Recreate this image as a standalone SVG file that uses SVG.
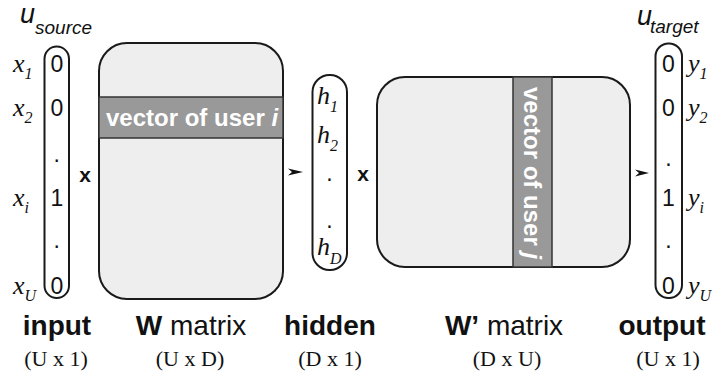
<svg xmlns="http://www.w3.org/2000/svg" width="715" height="373" viewBox="0 0 715 373">
  <defs>
    <style>
      .box { fill: #eeeeee; stroke: #1a1a1a; stroke-width: 2; }
      .pill { fill: #ffffff; stroke: #1a1a1a; stroke-width: 2; }
      .band { fill: #999999; stroke: #333333; stroke-width: 1.5; }
      .band-text { font-family: "Liberation Sans", Arial, sans-serif; font-size: 24px; font-weight: bold; fill: #ffffff; }
      .val { font-family: "Liberation Sans", Arial, sans-serif; font-size: 23px; fill: #111111; text-anchor: middle; }
      .var { font-family: "Liberation Serif", "Times New Roman", serif; font-style: italic; font-size: 26px; fill: #111111; }
      .sub { font-size: 16px; }
      .uname { font-family: "Liberation Sans", Arial, sans-serif; font-style: italic; fill: #111111; }
      .title { font-family: "Liberation Sans", Arial, sans-serif; font-size: 28px; fill: #111111; text-anchor: middle; }
      .dim { font-family: "Liberation Serif", "Times New Roman", serif; font-size: 22px; fill: #111111; text-anchor: middle; }
      .op { font-family: "Liberation Sans", Arial, sans-serif; font-size: 21px; font-weight: bold; fill: #111111; text-anchor: middle; }
      .arrow { fill: #111111; stroke: none; }
    </style>
  </defs>
  <rect width="715" height="373" fill="#ffffff"/>

  <!-- input one-hot vector -->
  <g id="input">
    <text class="uname" x="20" y="23" font-size="27">u</text>
    <text class="uname" x="35" y="34" font-size="19">source</text>
    <rect class="pill" x="44.5" y="46.5" width="24.5" height="251.5" rx="12.25"/>
    <text class="val" x="56.8" y="72">0</text>
    <text class="val" x="56.8" y="116">0</text>
    <text class="val" x="56.8" y="162">.</text>
    <text class="val" x="56.8" y="206">1</text>
    <text class="val" x="56.8" y="248">.</text>
    <text class="val" x="56.8" y="294">0</text>
    <text class="var" x="13" y="72">x<tspan class="sub" dy="7">1</tspan></text>
    <text class="var" x="13" y="116">x<tspan class="sub" dy="7">2</tspan></text>
    <text class="var" x="13" y="206">x<tspan class="sub" dy="7">i</tspan></text>
    <text class="var" x="13" y="294">x<tspan class="sub" dy="7">U</tspan></text>
    <text class="title" x="57" y="335" font-weight="bold">input</text>
    <text class="dim" x="56" y="366">(U x 1)</text>
  </g>

  <!-- W matrix with the row of user i -->
  <g id="w-matrix">
    <rect class="box" x="99" y="43" width="184" height="256" rx="28"/>
    <rect class="band" x="99" y="97" width="184" height="41"/>
    <text class="band-text" x="106" y="126">vector of user <tspan font-style="italic">i</tspan></text>
    <text class="title" x="191" y="335"><tspan font-weight="bold">W</tspan> matrix</text>
    <text class="dim" x="190" y="366">(U x D)</text>
  </g>

  <!-- hidden layer -->
  <g id="hidden">
    <rect class="pill" x="312.5" y="75" width="34.5" height="195" rx="17"/>
    <text class="var" x="317" y="104" font-size="24">h<tspan class="sub" dy="8">1</tspan></text>
    <text class="var" x="317" y="143" font-size="24">h<tspan class="sub" dy="8">2</tspan></text>
    <text class="val" x="329.5" y="181">.</text>
    <text class="val" x="329.5" y="228">.</text>
    <text class="var" x="317" y="255" font-size="24">h<tspan class="sub" dy="9">D</tspan></text>
    <text class="title" x="330" y="335" font-weight="bold">hidden</text>
    <text class="dim" x="330" y="366">(D x 1)</text>
  </g>

  <!-- W' matrix with the column of user j -->
  <g id="w-prime-matrix">
    <rect class="box" x="377" y="77" width="253" height="190" rx="28"/>
    <rect class="band" x="513" y="77" width="39" height="190"/>
    <text class="band-text" transform="translate(524,87) rotate(90)">vector of user <tspan font-style="italic">j</tspan></text>
    <text class="title" x="504" y="335"><tspan font-weight="bold">W’</tspan> matrix</text>
    <text class="dim" x="507" y="366">(D x U)</text>
  </g>

  <!-- output one-hot vector -->
  <g id="output">
    <text class="uname" x="637" y="25" font-size="27">u</text>
    <text class="uname" x="650" y="33" font-size="19">target</text>
    <rect class="pill" x="655.5" y="43.5" width="26.5" height="254.5" rx="13"/>
    <text class="val" x="668.5" y="72">0</text>
    <text class="val" x="668.5" y="116">0</text>
    <text class="val" x="668.5" y="166">.</text>
    <text class="val" x="668.5" y="206">1</text>
    <text class="val" x="668.5" y="248">.</text>
    <text class="val" x="668.5" y="294">0</text>
    <text class="var" x="688" y="72">y<tspan class="sub" dy="7">1</tspan></text>
    <text class="var" x="688" y="116">y<tspan class="sub" dy="7">2</tspan></text>
    <text class="var" x="688" y="206">y<tspan class="sub" dy="7">i</tspan></text>
    <text class="var" x="688" y="294">y<tspan class="sub" dy="7">U</tspan></text>
    <text class="title" x="662" y="335" font-weight="bold">output</text>
    <text class="dim" x="668" y="366">(U x 1)</text>
  </g>

  <!-- multiplication signs -->
  <g id="operators">
    <text class="op" x="85" y="182">x</text>
    <text class="op" x="363" y="181">x</text>
  </g>

  <!-- flow arrows -->
  <g id="connectors">
    <path class="arrow" d="M288,168.5 L303,172 L288,175.5 L292,172 Z"/>
    <path class="arrow" d="M635,169.5 L649,173 L635,176.5 L639,173 Z"/>
  </g>
</svg>
